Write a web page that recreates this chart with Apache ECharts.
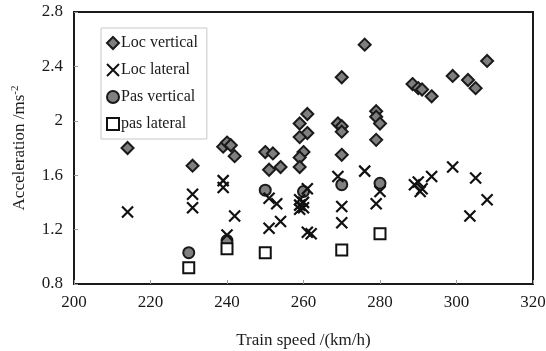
<!DOCTYPE html>
<html>
<head>
<meta charset="utf-8">
<script src="https://cdn.jsdelivr.net/npm/echarts@6/dist/echarts.min.js"></script>
<style>
  html, body { margin: 0; padding: 0; background: #fff; }
  #chart { width: 546px; height: 351px; }
</style>
</head>
<body>
<div id="chart"></div>
<script>
// Measured accelerations against train speed, [speed km/h, acceleration m/s^2]
const locVertical = [
  [214, 1.80], [231, 1.67], [239, 1.81], [240, 1.84], [241, 1.82], [242, 1.74],
  [250, 1.77], [252, 1.76], [251, 1.64], [254, 1.66],
  [259, 1.98], [261, 2.05], [261, 1.91], [259, 1.88], [260, 1.77], [259, 1.73], [259, 1.66],
  [269, 1.98], [270, 1.96], [270, 1.92], [270, 1.75], [270, 2.32],
  [276, 2.56], [279, 2.07], [279, 2.03], [280, 1.98], [279, 1.86],
  [288.5, 2.27], [290, 2.24], [291, 2.23], [293.5, 2.18], [299, 2.33], [303, 2.30], [305, 2.24], [308, 2.44]
];
const locLateral = [
  [214, 1.33], [231, 1.46], [231, 1.36], [239, 1.56], [239, 1.51], [242, 1.30], [240, 1.16],
  [251, 1.43], [253, 1.39], [251, 1.21], [254, 1.26],
  [261, 1.50], [259, 1.42], [260, 1.40], [259, 1.38], [260, 1.36], [259, 1.35], [261, 1.18], [262, 1.17],
  [269, 1.59], [270, 1.37], [270, 1.25],
  [276, 1.63], [280, 1.48], [279, 1.39],
  [289, 1.53], [290, 1.55], [290.5, 1.48], [291, 1.50], [293.5, 1.59], [299, 1.66],
  [305, 1.58], [308, 1.42], [303.5, 1.30]
];
const pasVertical = [[230, 1.03], [240, 1.12], [250, 1.49], [260, 1.48], [270, 1.53], [280, 1.54]];
const pasLateral = [[230, 0.92], [240, 1.06], [250, 1.03], [270, 1.05], [280, 1.17]];

const seriesNames = ['Loc vertical', 'Loc lateral', 'Pas vertical', 'pas lateral'];
const xLimits = [200, 320, 20];
const yLimits = [0.8, 2.8, 0.4];

const FONT = '"Liberation Serif", "Times New Roman", serif';
const INK = '#1a1a1a';
const CROSS = 'path://M0,0L10,10M10,0L0,10';

const chart = echarts.init(document.getElementById('chart'), null, { renderer: 'canvas' });

chart.setOption({
  animation: false,
  backgroundColor: '#fff',
  textStyle: { fontFamily: FONT, color: INK },
  grid: {
    left: 74, right: 13, top: 12, bottom: 67,
    outerBoundsMode: 'none', containLabel: false,
    show: true, borderColor: INK, borderWidth: 2, backgroundColor: 'transparent'
  },
  legend: {
    orient: 'vertical',
    left: 101, top: 28,
    itemWidth: 12, itemHeight: 12, itemGap: 11,
    padding: [7, 9, 7, 5],
    borderColor: '#c8c8c8', borderWidth: 1,
    textStyle: { fontFamily: FONT, fontSize: 16, color: INK, padding: [0, 0, 0, -3] },
    data: seriesNames
  },
  xAxis: {
    type: 'value',
    min: xLimits[0], max: xLimits[1], interval: xLimits[2],
    name: 'Train speed /(km/h)',
    nameLocation: 'middle', nameGap: 48,
    nameTextStyle: { fontFamily: FONT, fontSize: 17, color: INK },
    axisLine: { show: true, lineStyle: { color: INK, width: 2 } },
    axisTick: { show: true, inside: true, length: 4, lineStyle: { color: '#999', width: 1 } },
    axisLabel: { fontFamily: FONT, fontSize: 17, color: INK, margin: 10 },
    splitLine: { show: false }
  },
  yAxis: {
    type: 'value',
    min: yLimits[0], max: yLimits[1], interval: yLimits[2],
    name: 'Acceleration /ms{sup|-2}',
    nameLocation: 'middle', nameGap: 44,
    nameTextStyle: {
      fontFamily: FONT, fontSize: 17, color: INK,
      rich: { sup: { fontFamily: FONT, fontSize: 11, color: INK, padding: [0, 0, 9, 0] } }
    },
    axisLine: { show: true, lineStyle: { color: INK, width: 2 } },
    axisTick: { show: true, inside: true, length: 4, lineStyle: { color: '#999', width: 1 } },
    axisLabel: { fontFamily: FONT, fontSize: 17, color: INK, margin: 11 },
    splitLine: { show: false }
  },
  series: [
    {
      name: seriesNames[0], type: 'scatter', data: locVertical,
      symbol: 'diamond', symbolSize: 12, z: 3,
      itemStyle: { color: '#7f7f7f', borderColor: INK, borderWidth: 2, opacity: 1 }
    },
    {
      name: seriesNames[1], type: 'scatter', data: locLateral,
      symbol: CROSS, symbolSize: 11, z: 4,
      itemStyle: { color: 'rgba(0,0,0,0)', borderColor: '#111', borderWidth: 2.2, opacity: 1 }
    },
    {
      name: seriesNames[2], type: 'scatter', data: pasVertical,
      symbol: 'circle', symbolSize: 11, z: 2,
      itemStyle: { color: '#808080', borderColor: INK, borderWidth: 2, opacity: 1 }
    },
    {
      name: seriesNames[3], type: 'scatter', data: pasLateral,
      symbol: 'rect', symbolSize: 11, z: 2,
      itemStyle: { color: '#fff', borderColor: '#111', borderWidth: 2, opacity: 1 }
    }
  ]
});
</script>
</body>
</html>
